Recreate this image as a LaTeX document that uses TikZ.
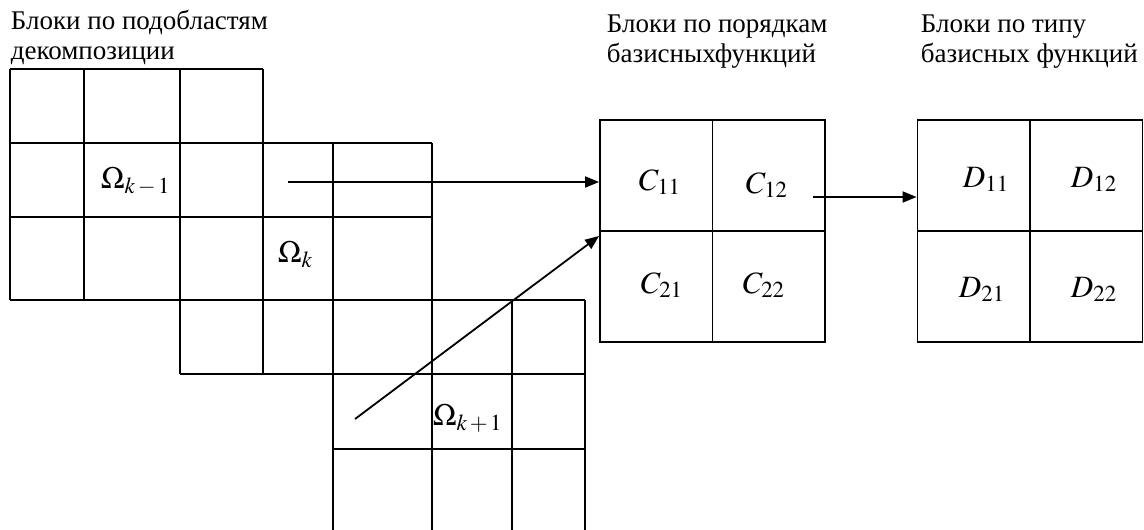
\documentclass[tikz,border=0pt]{standalone}
\usepackage{mathptmx}
\usepackage{fontspec}
\setmainfont{Liberation Serif}
\usetikzlibrary{arrows.meta,calc}

\begin{document}
\begin{tikzpicture}[
  x=1pt, y=-1pt, line width=1.8pt,
  font=\fontsize{27}{30}\selectfont,
  ttl/.style={anchor=north west, inner sep=0pt, align=left},
  lbl/.style={anchor=base west, inner sep=0pt, font=\fontsize{31}{36}\selectfont},
  blk/.style={draw, minimum width=225pt, minimum height=222pt, inner sep=0pt},
  pf/.style={-{Triangle[length=14pt,width=11pt]}}
]
\useasboundingbox (0,0) rectangle (1144,530);

% subdomain grids
\foreach \x in {10,84,180,263} \draw (\x,69) -- (\x,300);
\foreach \y in {69,143,217,300} \draw (10,\y) -- (263,\y);
\foreach \x in {180,263,333,432} \draw (\x,143) -- (\x,374);
\foreach \y in {143,217,300,374} \draw (180,\y) -- (432,\y);
\foreach \x in {333,432,512,585} \draw (\x,300) -- (\x,530);
\foreach \y in {300,374,449} \draw (333,\y) -- (585,\y);

\node[lbl] (om1) at (100,188) {$\Omega_{k\,-\,1}$};
\node[lbl] (om) at (277,262) {$\Omega_{k}$};
\node[lbl] (op1) at (432,425) {$\Omega_{k\,+\,1}$};

% 2x2 blocks
\node[blk] (cblk) at (712.5,231) {};
\draw (cblk.north) -- (cblk.south); \draw (cblk.west) -- (cblk.east);
\node[blk] (dblk) at (1030,231) {};
\draw (dblk.north) -- (dblk.south); \draw (dblk.west) -- (dblk.east);

\node[lbl] (c11) at (638,190) {$C_{11}$};
\node[lbl] (c12) at (745,193) {$C_{12}$};
\node[lbl] (c21) at (640,293) {$C_{21}$};
\node[lbl] (c22) at (742,293) {$C_{22}$};
\node[lbl] (d11) at (962,187) {$D_{11}$};
\node[lbl] (d12) at (1070,187) {$D_{12}$};
\node[lbl] (d21) at (958,297) {$D_{21}$};
\node[lbl] (d22) at (1070,297) {$D_{22}$};

\node[ttl] (t1) at (10,9) {Блоки по подобластям\\декомпозиции};
\node[ttl] (t2) at (606,14) {Блоки по порядкам\\базисныхфункций};
\node[ttl] (t3) at (920,14) {Блоки по типу\\базисных функций};

\coordinate (s1) at (288,182);
\coordinate (s2) at (355,419);
\coordinate (s3) at (813,197);
\draw[pf] (s1) -- (cblk.west |- s1);
\draw[pf] (s2) -- ($(cblk.west)+(0,5)$);
\draw[pf] (s3) -- (dblk.west |- s3);
\end{tikzpicture}
\end{document}
